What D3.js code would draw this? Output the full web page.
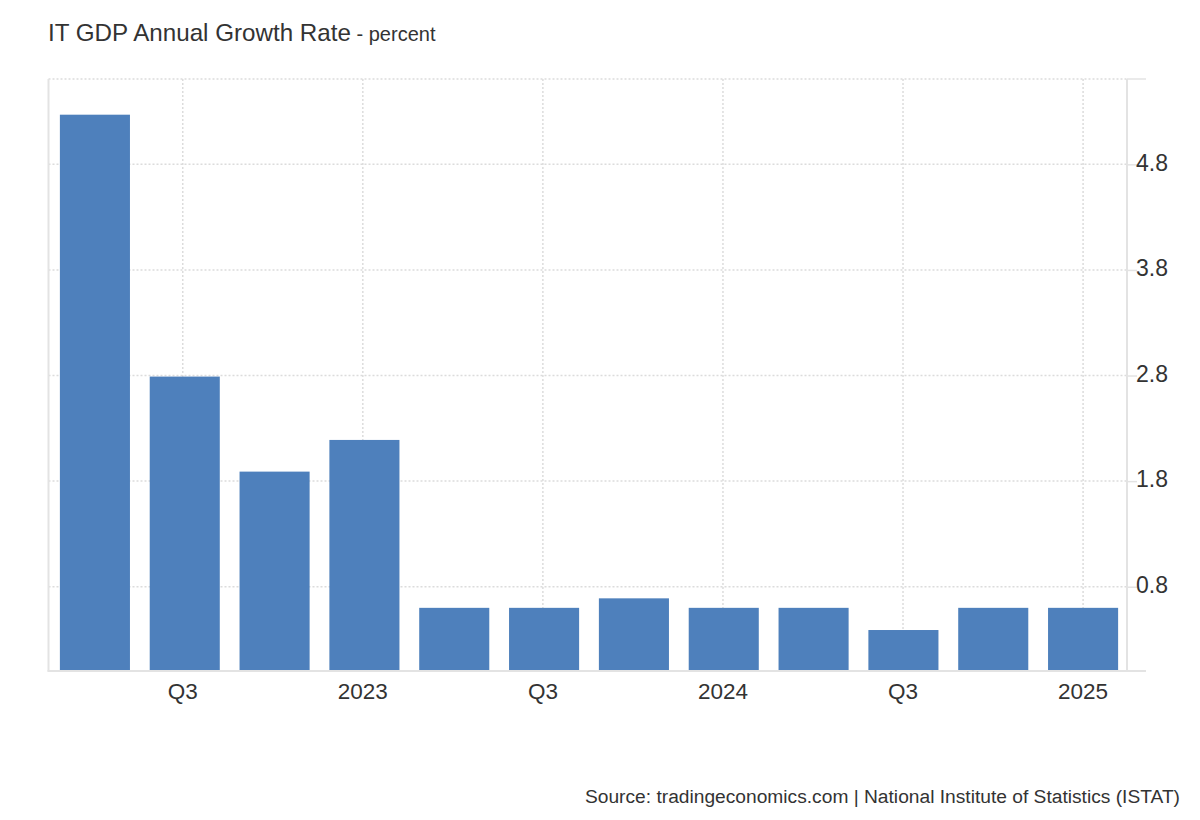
<!DOCTYPE html>
<html>
<head>
<meta charset="utf-8">
<script src="https://cdn.jsdelivr.net/npm/d3@7"></script>
<style>
  html, body { margin: 0; padding: 0; background: #fff; }
  svg { display: block; font-family: "Liberation Sans", Arial, sans-serif; }
</style>
</head>
<body>
<svg id="chart" width="1200" height="820"></svg>
<script>
// ---- data ----
const quarters = ["2022 Q2","2022 Q3","2022 Q4","2023 Q1","2023 Q2","2023 Q3","2023 Q4","2024 Q1","2024 Q2","2024 Q3","2024 Q4","2025 Q1"];
const growth   = [5.27, 2.79, 1.89, 2.19, 0.6, 0.6, 0.69, 0.6, 0.6, 0.39, 0.6, 0.6];
const xTickQuarters = ["2022 Q3","2023 Q1","2023 Q3","2024 Q1","2024 Q3","2025 Q1"];
const xTickLabels   = ["Q3","2023","Q3","2024","Q3","2025"];
const yTicks = [0.8, 1.8, 2.8, 3.8, 4.8];
const titleText = "IT GDP Annual Growth Rate";
const subtitleText = " - percent";
const sourceText = "Source: tradingeconomics.com | National Institute of Statistics (ISTAT)";

// ---- layout ----
const svg = d3.select("#chart");
const plotLeft = 48.5, plotRight = 1127, plotTop = 79, plotBottom = 670.5;

const x = d3.scaleBand().domain(quarters).range([50, 1128]).paddingInner(0.22).paddingOuter(0.11);
const y = d3.scaleLinear().domain([0, 5.608]).range([671.2, plotTop]);
const tickX = q => x(q) + x.bandwidth() / 2 - 2 + 2 * xTickQuarters.indexOf(q) / 5;

const gridColor = "#dcdcdc";
const lineColor = "#e3e3e3";

// horizontal gridlines (incl. top)
svg.append("g").selectAll("line").data(yTicks.concat([y.domain()[1]])).join("line")
  .attr("x1", plotLeft).attr("x2", plotRight)
  .attr("y1", d => y(d)).attr("y2", d => y(d))
  .attr("stroke", gridColor).attr("stroke-width", 1.5).attr("stroke-dasharray", "2,2");

// vertical gridlines
svg.append("g").selectAll("line").data(xTickQuarters).join("line")
  .attr("x1", d => tickX(d)).attr("x2", d => tickX(d))
  .attr("y1", plotTop).attr("y2", plotBottom)
  .attr("stroke", gridColor).attr("stroke-width", 1.5).attr("stroke-dasharray", "2,2");

// bars
svg.append("g").selectAll("rect").data(quarters).join("rect")
  .attr("x", d => x(d))
  .attr("width", x.bandwidth())
  .attr("y", (d, i) => y(growth[i]))
  .attr("height", (d, i) => plotBottom - y(growth[i]))
  .attr("fill", "#4e80bc");

// left border
svg.append("line").attr("x1", plotLeft).attr("x2", plotLeft).attr("y1", plotTop).attr("y2", plotBottom + 1)
  .attr("stroke", lineColor).attr("stroke-width", 2);

// bottom axis
const xAxis = d3.axisBottom(x)
  .tickValues(xTickQuarters)
  .tickFormat(d => xTickLabels[xTickQuarters.indexOf(d)])
  .tickSize(0).tickPadding(12);
const gx = svg.append("g").attr("transform", `translate(0,${plotBottom + 0.5})`).call(xAxis);
gx.select(".domain").remove();
gx.selectAll(".tick").attr("transform", d => `translate(${tickX(d)},0)`);
gx.selectAll("text").attr("fill", "#333").style("font-size", "22.5px")
  .attr("font-family", "'Liberation Sans', Arial, sans-serif");
svg.append("line").attr("x1", plotLeft - 1).attr("x2", 1146).attr("y1", plotBottom + 0.5).attr("y2", plotBottom + 0.5)
  .attr("stroke", lineColor).attr("stroke-width", 2);

// right axis
const yAxis = d3.axisRight(y).tickValues(yTicks).tickFormat(d3.format(".1f")).tickSize(10).tickPadding(-1);
const gy = svg.append("g").attr("transform", `translate(${plotRight},0)`).call(yAxis);
gy.select(".domain").remove();
gy.selectAll(".tick line").attr("stroke", lineColor).attr("stroke-width", 1.5);
gy.selectAll("text").attr("fill", "#333").attr("dy", "0.25em").style("font-size", "23px")
  .attr("font-family", "'Liberation Sans', Arial, sans-serif");
svg.append("line").attr("x1", plotRight).attr("x2", plotRight).attr("y1", plotTop).attr("y2", plotBottom)
  .attr("stroke", lineColor).attr("stroke-width", 2);
svg.append("line").attr("x1", plotRight).attr("x2", 1146).attr("y1", plotTop).attr("y2", plotTop)
  .attr("stroke", lineColor).attr("stroke-width", 1.5);

// title
const t = svg.append("text").attr("x", 48).attr("y", 41).attr("fill", "#333");
t.append("tspan").text(titleText).style("font-size", "24.2px");
t.append("tspan").text(subtitleText).style("font-size", "20px");

// source
svg.append("text").attr("x", 1180).attr("y", 803).attr("text-anchor", "end")
  .attr("fill", "#333").style("font-size", "19.2px").text(sourceText);
</script>
</body>
</html>
